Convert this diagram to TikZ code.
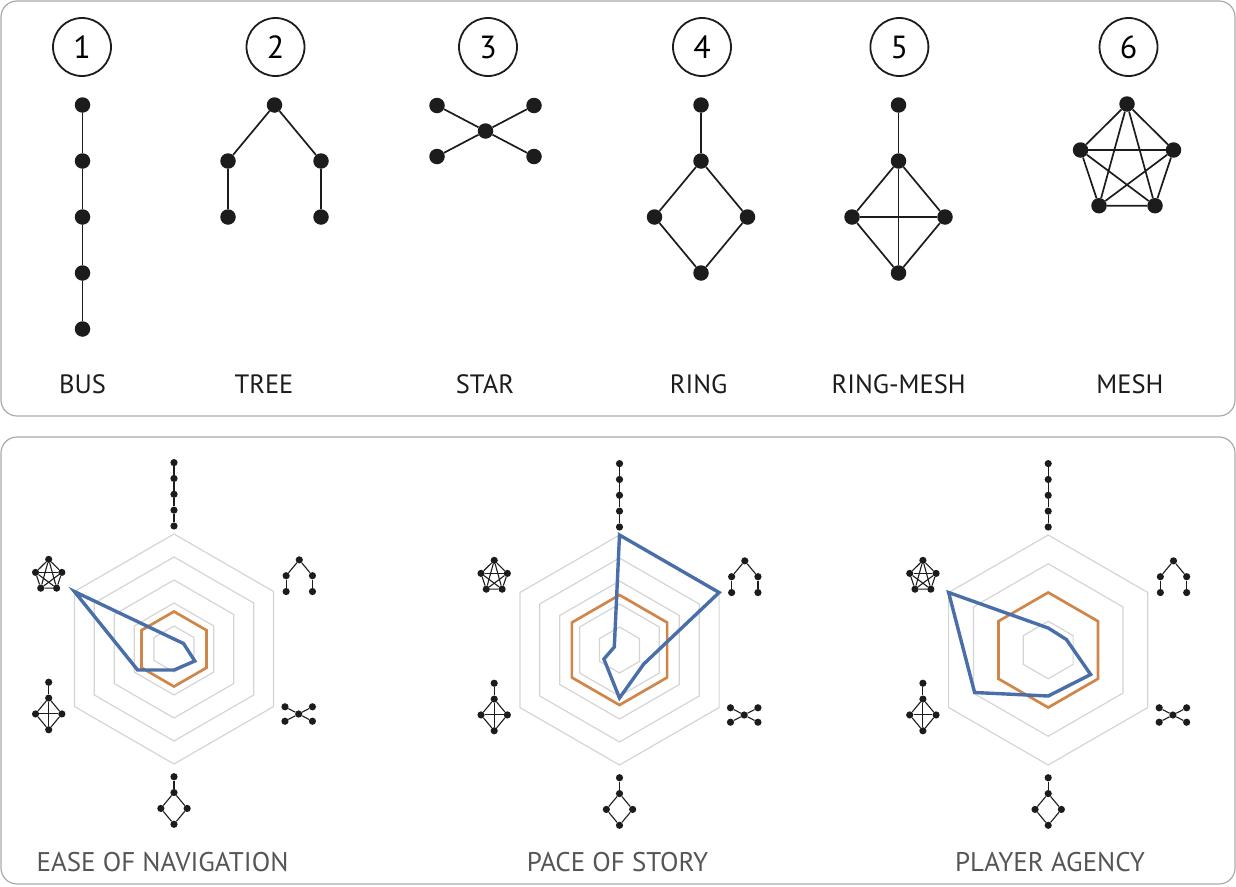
\documentclass[tikz,border=0pt]{standalone}
\usepackage{fontspec}
\setmainfont{PT Sans}
\definecolor{panelgray}{HTML}{ABABAB}
\definecolor{gridgray}{HTML}{D4D4D4}
\definecolor{dataBlue}{HTML}{4A6EA8}
\definecolor{dataOrange}{HTML}{D08649}
\definecolor{labelgray}{HTML}{555555}
\definecolor{ink}{HTML}{1C1C1C}
\tikzset{
  panel/.style={draw=panelgray, line width=1.2pt, rounded corners=16pt},
  bigdot/.style={circle, fill=ink, inner sep=0pt, minimum size=15.5pt},
  smalldot/.style={circle, fill=ink, inner sep=0pt, minimum size=7.2pt},
  bigedge/.style={draw=ink, line width=1.7pt},
  smalledge/.style={draw=ink, line width=1.1pt},
  nd/.style={bigdot}, ed/.style={bigedge},
  numcirc/.style={circle, draw=ink, line width=1.8pt, minimum size=58pt, inner sep=0pt, font=\fontsize{32}{32}\selectfont},
  toplabel/.style={text=ink, font=\fontsize{26.5}{27}\selectfont, inner sep=0pt},
  chartlabel/.style={text=labelgray, font=\fontsize{27}{28}\selectfont, inner sep=0pt},
  gridline/.style={draw=gridgray, line width=1.2pt},
  blueline/.style={draw=dataBlue, line width=3.4pt},
  orangeline/.style={draw=dataOrange, line width=2.7pt},
  pics/bus/.style={code={
    \node[nd] (-a) at (0,-112) {};
    \node[nd] (-b) at (0,-56) {};
    \node[nd] (-c) at (0,0) {};
    \node[nd] (-d) at (0,56) {};
    \node[nd] (-e) at (0,112) {};
    \draw[ed] (-a) -- (-b) -- (-c) -- (-d) -- (-e);
  }},
  pics/tree/.style={code={
    \node[nd] (-t) at (0,-56) {};
    \node[nd] (-l) at (-46.5,0) {};
    \node[nd] (-r) at (46.5,0) {};
    \node[nd] (-lb) at (-46.5,56) {};
    \node[nd] (-rb) at (46.5,56) {};
    \draw[ed] (-l) -- (-t) -- (-r);
    \draw[ed] (-l) -- (-lb);
    \draw[ed] (-r) -- (-rb);
  }},
  pics/star/.style={code={
    \node[nd] (-c) at (0,0) {};
    \node[nd] (-a) at (-48.5,-25.5) {};
    \node[nd] (-b) at (48.5,-25.5) {};
    \node[nd] (-d) at (-48.5,25.5) {};
    \node[nd] (-e) at (48.5,25.5) {};
    \draw[ed] (-a) -- (-c) -- (-e);
    \draw[ed] (-b) -- (-c) -- (-d);
  }},
  pics/ring/.style={code={
    \node[nd] (-a) at (0,-84) {};
    \node[nd] (-b) at (0,-28) {};
    \node[nd] (-l) at (-46.5,28) {};
    \node[nd] (-r) at (46.5,28) {};
    \node[nd] (-d) at (0,84) {};
    \draw[ed] (-a) -- (-b);
    \draw[ed] (-b) -- (-l) -- (-d) -- (-r) -- (-b);
  }},
  pics/ringmesh/.style={code={
    \node[nd] (-a) at (0,-84) {};
    \node[nd] (-b) at (0,-28) {};
    \node[nd] (-l) at (-46.5,28) {};
    \node[nd] (-r) at (46.5,28) {};
    \node[nd] (-d) at (0,84) {};
    \draw[ed] (-a) -- (-b);
    \draw[ed] (-b) -- (-l) -- (-d) -- (-r) -- (-b);
    \draw[ed] (-l) -- (-r);
    \draw[ed] (-b) -- (-d);
  }},
  pics/mesh/.style={code={
    \node[nd] (-a) at (0,-51) {};
    \node[nd] (-b) at (-46.5,-5) {};
    \node[nd] (-c) at (46.5,-5) {};
    \node[nd] (-d) at (-28,50.7) {};
    \node[nd] (-e) at (28,50.7) {};
    \draw[ed] (-a) -- (-b) -- (-d) -- (-e) -- (-c) -- (-a);
    \draw[ed] (-a) -- (-d);
    \draw[ed] (-a) -- (-e);
    \draw[ed] (-b) -- (-c);
    \draw[ed] (-b) -- (-e);
    \draw[ed] (-c) -- (-d);
  }},
}
\newcommand\hexat[1]{(-90:#1) -- (-30:#1) -- (30:#1) -- (90:#1) -- (150:#1) -- (210:#1) -- cycle}
\newcommand\chartIcons[1]{%
  \begin{scope}[nd/.style={smalldot}, ed/.style={smalledge}]
    \pic[scale=0.283] (#1bus) at (0,-154.7) {bus};
    \pic[scale=0.283] (#1tree) at (125.3,-73.3) {tree};
    \pic[scale=0.283] (#1star) at (124.7,65) {star};
    \pic[scale=0.283] (#1ring) at (0,151.5) {ring};
    \pic[scale=0.283] (#1rmesh) at (-125.3,57) {ringmesh};
    \pic[scale=0.283] (#1mesh) at (-125.3,-75.2) {mesh};
  \end{scope}}
\begin{document}
\begin{tikzpicture}[x=1pt, y=-1pt]
\useasboundingbox (0,0) rectangle (1236,886);
% panels
\draw[panel] (1,1) rectangle (1235,416);
\draw[panel] (1,437) rectangle (1235,884);

% ---------- top panel ----------
\node[numcirc] (n1) at (82,47) {1};
\node[numcirc] (n2) at (275.5,47) {2};
\node[numcirc] (n3) at (488,47) {3};
\node[numcirc] (n4) at (702,47) {4};
\node[numcirc] (n5) at (899.4,47) {5};
\node[numcirc] (n6) at (1128.5,47) {6};

\pic (tbus) at (82.5,217) {bus};
\pic (ttree) at (274.5,161) {tree};
\pic (tstar) at (485.5,131) {star};
\pic (tring) at (701,189) {ring};
\pic (trmesh) at (898.5,189) {ringmesh};
\pic (tmesh) at (1127,155) {mesh};

\node[toplabel] (lbus) at (82.6,384) {BUS};
\node[toplabel] (ltree) at (264,384) {TREE};
\node[toplabel] (lstar) at (485,384) {STAR};
\node[toplabel] (lring) at (698.6,384) {RING};
\node[toplabel] (lrmesh) at (898.6,384) {RING-MESH};
\node[toplabel] (lmesh) at (1130,384) {MESH};

% ---------- chart 1: ease of navigation ----------
\begin{scope}[shift={(174,649)}]
  \foreach \r in {23,46,69,92,115} \draw[gridline] \hexat{\r};
  \draw[orangeline] \hexat{37.5};
  \draw[blueline] (-90:10) -- (-30:11) -- (30:24) -- (90:21) -- (150:42) -- (210:115) -- cycle;
  \chartIcons{a}
\end{scope}
\node[chartlabel] (c1) at (162.5,862.5) {EASE OF NAVIGATION};

% ---------- chart 2: pace of story ----------
\begin{scope}[shift={(619.5,650)}]
  \foreach \r in {23,46,69,92,115} \draw[gridline] \hexat{\r};
  \draw[orangeline] \hexat{55};
  \draw[blueline] (-90:115) -- (-30:115) -- (30:28) -- (90:48) -- (150:18) -- (210:6) -- cycle;
  \chartIcons{b}
\end{scope}
\node[chartlabel] (c2) at (617.5,862.5) {PACE OF STORY};

% ---------- chart 3: player agency ----------
\begin{scope}[shift={(1048.2,650)}]
  \foreach \r in {28.75,57.5,86.25,115} \draw[gridline] \hexat{\r};
  \draw[orangeline] \hexat{57.5};
  \draw[blueline] (-90:22) -- (-30:21) -- (30:49) -- (90:46) -- (150:85) -- (210:115) -- cycle;
  \chartIcons{c}
\end{scope}
\node[chartlabel] (c3) at (1050,862.5) {PLAYER AGENCY};
\end{tikzpicture}
\end{document}
